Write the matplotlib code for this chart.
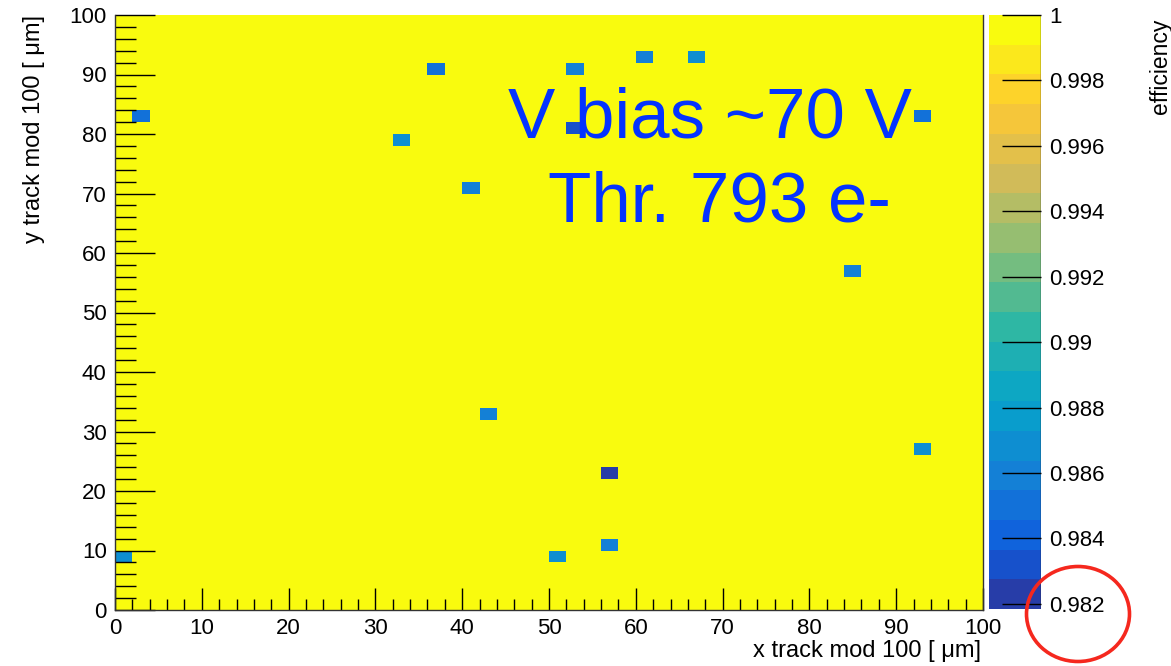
import matplotlib
matplotlib.use("Agg")
import matplotlib.pyplot as plt
import numpy as np
from matplotlib.colors import LinearSegmentedColormap, ListedColormap, BoundaryNorm
from matplotlib.patches import Ellipse

plt.rcParams["font.family"] = ["Liberation Sans", "DejaVu Sans"]

# ---- data: 2 um x 2 um bins, every bin not listed is fully efficient ----- #
bin_width = 2
cell_x = [0, 2, 32, 36, 40, 42, 50, 52, 52, 56, 56, 60, 66, 84, 92, 92]
cell_y = [8, 82, 78, 90, 70, 32, 8, 90, 80, 10, 22, 92, 92, 56, 82, 26]
cell_eff = [0.9868, 0.9850, 0.9868, 0.9852, 0.9862, 0.9862, 0.9868, 0.9860,
            0.9833, 0.9858, 0.98184, 0.9860, 0.9866, 0.9862, 0.9850, 0.9868]
z_min, z_max = 0.98184, 1.0
n_contours = 20
cbar_ticks = [0.982, 0.984, 0.986, 0.988, 0.990, 0.992, 0.994, 0.996, 0.998, 1.0]

edges = np.arange(0, 100 + bin_width, bin_width)
Z = np.ones((len(edges) - 1, len(edges) - 1))
for x, y, e in zip(cell_x, cell_y, cell_eff):
    Z[y // bin_width, x // bin_width] = e

# ROOT kBird palette, sampled the way THistPainter picks contour colours
stops = [0, .125, .25, .375, .5, .625, .75, .875, 1]
red = [0.2082, 0.0592, 0.0780, 0.0232, 0.1802, 0.5301, 0.8186, 0.9956, 0.9764]
green = [0.1664, 0.3599, 0.5041, 0.6419, 0.7178, 0.7492, 0.7328, 0.7862, 0.9832]
blue = [0.5293, 0.8684, 0.8385, 0.7914, 0.6425, 0.4662, 0.3499, 0.1968, 0.0539]
bird = LinearSegmentedColormap.from_list(
    "bird", list(zip(stops, zip(red, green, blue))), N=255)
idx = [int((k + 0.99) * 255 / n_contours) / 254 for k in range(n_contours)]
cmap = ListedColormap([bird(f) for f in idx])
levels = np.linspace(z_min, z_max, n_contours + 1)
norm = BoundaryNorm(levels, n_contours)

W, H = 1171, 666
fig = plt.figure(figsize=(W / 100, H / 100), dpi=100)
ax = fig.add_axes([115 / W, 1 - 610 / H, (983 - 115) / W, (610 - 15) / H])
cax = fig.add_axes([989 / W, 1 - 609 / H, 52 / W, 594 / H])

mesh = ax.pcolormesh(edges, edges, Z, cmap=cmap, norm=norm)
ax.set_xlim(0, 100)
ax.set_ylim(0, 100)
ax.set_xticks(np.arange(0, 101, 10))
ax.set_yticks(np.arange(0, 101, 10))
ax.set_xticks(np.arange(0, 101, 2), minor=True)
ax.set_yticks(np.arange(0, 101, 2), minor=True)
ax.tick_params(axis="x", which="major", direction="in", length=16, width=1,
               labelsize=16, pad=6)
ax.tick_params(axis="x", which="minor", direction="in", length=8, width=1)
ax.tick_params(axis="y", which="major", direction="in", length=29, width=1,
               labelsize=16, pad=6)
ax.tick_params(axis="y", which="minor", direction="in", length=15, width=1)
ax.spines["top"].set_visible(False)
for s in ("left", "bottom", "right"):
    ax.spines[s].set_linewidth(1)
    ax.spines[s].set_color("#333333")

fig.text(981 / W, 1 - 657 / H, "x track mod 100 [ \u03bcm]", ha="right",
         va="baseline", fontsize=17)
fig.text(23 / W, 1 - 15 / H, "y track mod 100 [ \u03bcm]", rotation=90,
         ha="left", va="top", fontsize=17)

# colour scale
cb = fig.colorbar(mesh, cax=cax, ticks=cbar_ticks)
cb.outline.set_visible(False)
cax.set_ylim(z_min, z_max)
cax.yaxis.set_ticks_position("right")
cax.tick_params(axis="y", direction="in", length=28, width=1, labelsize=16, pad=6)
cax.set_yticklabels([f"{t:g}" for t in cbar_ticks])
cax.minorticks_off()
cax.axvline(1, color="#222222", lw=1)
fig.text(1149 / W, 1 - 19 / H, "efficiency", rotation=90, ha="left", va="top",
         fontsize=16.5)

# slide annotations
fig.text(508 / W, 1 - 137 / H, "V bias ~70 V", color="#0433ff", fontsize=51,
         ha="left", va="baseline")
fig.text(548 / W, 1 - 222 / H, "Thr. 793 e-", color="#0433ff", fontsize=51,
         ha="left", va="baseline")
fig.add_artist(Ellipse((1078 / W, 1 - 614 / H), 103 / W, 95 / H,
                       transform=fig.transFigure, fill=False,
                       edgecolor="#f5281e", lw=2.6))

fig.savefig("out.png", dpi=100)
